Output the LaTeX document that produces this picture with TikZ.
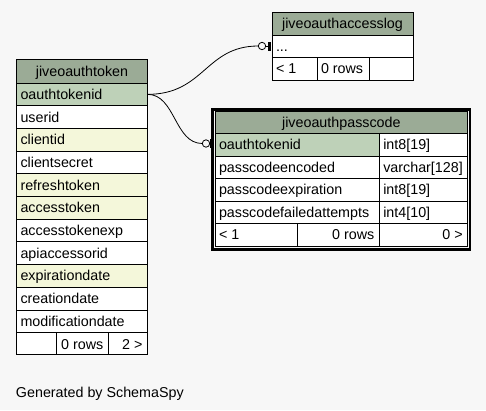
\documentclass[tikz,border=0pt]{standalone}
\usepackage{fontspec}
\setmainfont{Liberation Sans}
\usetikzlibrary{calc}
\definecolor{bg}{HTML}{F7F7F7}
\definecolor{hdr}{HTML}{9BAB96}
\definecolor{pkc}{HTML}{BED1B8}
\definecolor{idx}{HTML}{F4F7DA}
\tikzset{
 cellbox/.style={draw=black, line width=1pt, inner sep=0, outer sep=0, anchor=north west, rectangle},
 txt/.style={inner sep=0, outer sep=0, font=\fontsize{14.3}{16}\selectfont, text=black},
 conn/.style={draw=black, line width=0.8pt},
 ring/.style={circle, draw=black, fill=bg, line width=0.8pt, minimum size=7.4pt, inner sep=0, outer sep=0},
 endbar/.style={rectangle, fill=black, minimum width=3pt, minimum height=9pt, inner sep=0, outer sep=0},
 frame/.style={draw=black, line width=2.5pt, inner sep=0, outer sep=0, anchor=north west, rectangle}
}
\newcommand\cellL[7]{\node[cellbox,fill=#6,minimum width=#4pt,minimum height=#5pt] (#1) at (#2,#3) {};
 \node[txt,anchor=base west] (#1t) at ($(#1.north west)+(4,16.3)$) {#7};}
\newcommand\cellC[7]{\node[cellbox,fill=#6,minimum width=#4pt,minimum height=#5pt] (#1) at (#2,#3) {};
 \node[txt,anchor=base] (#1t) at ($(#1.north)+(0,16.8)$) {#7};}
\newcommand\cellR[7]{\node[cellbox,fill=#6,minimum width=#4pt,minimum height=#5pt] (#1) at (#2,#3) {};
 \node[txt,anchor=base east] (#1t) at ($(#1.north east)+(-5,16.3)$) {#7};}
\newcommand\cellE[6]{\node[cellbox,fill=#6,minimum width=#4pt,minimum height=#5pt] (#1) at (#2,#3) {};}
\begin{document}
\begin{tikzpicture}[x=1pt,y=-1pt]
\fill[bg] (0,0) rectangle (486,410);
\useasboundingbox (0,0) rectangle (486,410);

% jiveoauthtoken
\cellC{aT}{16.5}{59.5}{131}{23.5}{hdr}{jiveoauthtoken}
\cellL{aPk}{16.5}{83}{131}{22.7}{pkc}{oauthtokenid}
\cellL{aR1}{16.5}{105.7}{131}{22.7}{white}{userid}
\cellL{aR2}{16.5}{128.4}{131}{22.7}{idx}{clientid}
\cellL{aR3}{16.5}{151.1}{131}{22.7}{white}{clientsecret}
\cellL{aR4}{16.5}{173.8}{131}{22.7}{idx}{refreshtoken}
\cellL{aR5}{16.5}{196.5}{131}{22.7}{idx}{accesstoken}
\cellL{aR6}{16.5}{219.2}{131}{22.7}{white}{accesstokenexp}
\cellL{aR7}{16.5}{241.9}{131}{22.7}{white}{apiaccessorid}
\cellL{aR8}{16.5}{264.6}{131}{22.7}{idx}{expirationdate}
\cellL{aR9}{16.5}{287.3}{131}{22.7}{white}{creationdate}
\cellL{aR10}{16.5}{310.0}{131}{22.7}{white}{modificationdate}
\cellE{aF1}{16.5}{332.7}{40}{22}{white}
\cellC{aF2}{56.5}{332.7}{51.5}{22}{white}{0 rows}
\cellR{aF3}{108}{332.7}{39.5}{22}{white}{2 >}

% jiveoauthaccesslog
\cellC{bT}{272}{12}{141}{23}{hdr}{jiveoauthaccesslog}
\cellL{bR1}{272}{35}{141}{22}{white}{...}
\cellL{bF1}{272}{57}{45}{23}{white}{< 1}
\cellL{bF2}{317}{57}{52}{23}{white}{0 rows}
\cellE{bF3}{369}{57}{44}{23}{white}

% jiveoauthpasscode
\node[frame,minimum width=257.5pt,minimum height=140.2pt] (cFrame) at (212.5,109.3) {};
\cellC{cT}{215}{111}{252.7}{22.5}{hdr}{jiveoauthpasscode}
\cellL{cPk}{215}{133.5}{164.3}{22.5}{pkc}{oauthtokenid}
\cellL{cPkT}{379.3}{133.5}{88.4}{22.5}{white}{int8[19]}
\cellL{cR2}{215}{156}{164.3}{22.5}{white}{passcodeencoded}
\cellL{cR2T}{379.3}{156}{88.4}{22.5}{white}{varchar[128]}
\cellL{cR3}{215}{178.5}{164.3}{22.5}{white}{passcodeexpiration}
\cellL{cR3T}{379.3}{178.5}{88.4}{22.5}{white}{int8[19]}
\cellL{cR4}{215}{201}{164.3}{22.5}{white}{passcodefailedattempts}
\cellL{cR4T}{379.3}{201}{88.4}{22.5}{white}{int4[10]}
\cellL{cF1}{215}{223.5}{82.3}{22.7}{white}{< 1}
\cellR{cF2}{297.3}{223.5}{82}{22.7}{white}{0 rows}
\cellR{cF3}{379.3}{223.5}{88.4}{22.7}{white}{0 >}

% connectors
\node[ring] (r1) at (262,46) {};
\node[endbar] (e1) at (269,46) {};
\draw[conn] (aPk.east) .. controls +(57,0) and +(-53,0) .. (r1.west);
\draw[conn] (r1.east) -- (e1.west);

\node[ring] (r2) at (206,143.5) {};
\node[endbar] (e2) at (211.8,143.5) {};
\draw[conn] (aPk.east) .. controls +(28,0) and +(-28,0) .. (r2.west);
\draw[conn] (r2.east) -- (e2.west);

\node[txt,anchor=base west] (gen) at (16,397) {Generated by SchemaSpy};
\end{tikzpicture}
\end{document}
